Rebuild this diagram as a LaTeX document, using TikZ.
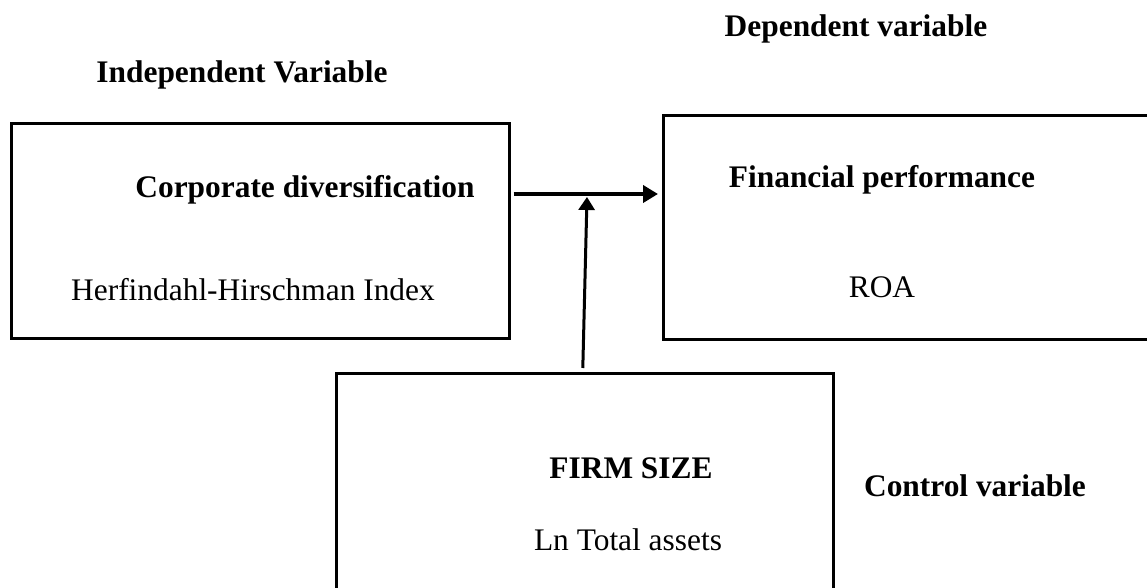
\documentclass[tikz,border=0pt]{standalone}
\usepackage{fontspec}
\setmainfont{Liberation Serif}
\usetikzlibrary{arrows.meta}

\begin{document}
\begin{tikzpicture}[x=0.5pt,y=-0.5pt,
		box/.style={draw, line width=1.3pt, inner sep=0pt, anchor=north west},
		txt/.style={font=\fontsize{15.7}{18}\selectfont},
		head/.style={font=\fontsize{15.7}{18}\selectfont\bfseries},
		bigarrow/.style={line width=2pt, -{Triangle[length=7.5pt,width=8.5pt]}},
		uparrow/.style={line width=1.5pt, -{Triangle[length=6.5pt,width=8pt]}}]
		%%%%% START %%%%%
		\useasboundingbox (0,0) rectangle (1147,588);
		\clip (0,0) rectangle (1147,588);
		
		% boxes
		\node[box, minimum width=249pt, minimum height=107.5pt] (div) at (10,122) {};
		\node[box, minimum width=250pt, minimum height=112pt] (fin) at (662,114) {};
		\node[box, minimum width=248.5pt, minimum height=120pt] (size) at (335,372) {};
		
		% titles
		\node[head] (dep) at (856,29) {Dependent variable};
		\node[head] (indep) at (242,75) {Independent Variable};
		\node[head] (ctrl) at (975,486) {Control variable};
		
		% box texts
		\node[head] (divtitle) at (305,190) {Corporate diversification};
		\node[txt] (hhi) at (253,290) {Herfindahl-Hirschman Index};
		\node[head] (fintitle) at (882,180) {Financial performance};
		\node[txt] (roa) at (882,287) {ROA};
		\node[head] (sizetitle) at (631,468) {FIRM SIZE};
		\node[txt] (lnta) at (628,540) {Ln Total assets};
		
		% arrows
		\coordinate (mid) at (585,194);
		\coordinate (hit) at (587,197);
		\draw[bigarrow] ([xshift=1.5pt]div.east |- mid) -- ([xshift=-2pt]fin.west |- mid);
		\draw[uparrow] ([xshift=-1pt,yshift=2pt]size.north) -- (hit);
		%%%%% END %%%%%
\end{tikzpicture}
\end{document}
